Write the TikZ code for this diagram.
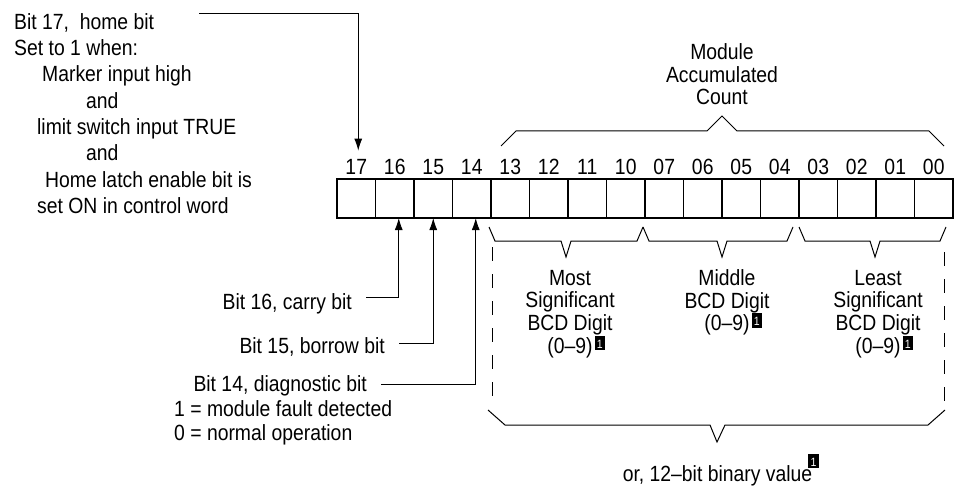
\documentclass[tikz,border=0pt]{standalone}
\usepackage{fontspec}
\setmainfont{Liberation Sans}[FakeStretch=0.88]
\usepackage{xcolor}
\usetikzlibrary{arrows.meta}

% black footnote box with a white 1
\newcommand{\notemark}[2]{\rlap{\hspace{#1}\smash{\raisebox{#2}{\setlength{\fboxsep}{2pt}\colorbox{black}{\rule{0pt}{10.5pt}\makebox[6.5pt]{\color{white}\fontsize{12}{12}\selectfont 1}}}}}}
% brace under a group of four bits
\newcommand{\digitbrace}[3]{\draw[brace] (#1,227) -- ++(6,14) -- ({#3-5},241) -- (#3,257) -- ({#3+5},241) -- ({#2-6},241) -- (#2,227);}

\begin{document}
\begin{tikzpicture}[x=1pt,y=-1pt,
  txt/.style={font=\fontsize{22}{22.7}\selectfont, inner sep=0pt},
  cell/.style={draw, line width=1.2pt, minimum width=38.5pt, minimum height=39pt, inner sep=0pt, outer sep=0pt},
  brace/.style={line width=1pt},
  arr/.style={line width=0.9pt, -{Latex[length=12pt, width=8pt]}},
  dashbox/.style={line width=1pt, dash pattern=on 14pt off 13pt}]
\useasboundingbox (0,0) rectangle (955,489);

% register
\foreach \b [count=\i from 0] in {17,16,15,14,13,12,11,10,07,06,05,04,03,02,01,00} {
  \node[cell, anchor=north west] (c\b) at (337+38.5*\i,179) {};
  \node[txt, anchor=base] (l\b) at ([yshift=4pt]c\b.north) {\b};
}

% bit 17
\node[txt, anchor=base west] (home) at (14,29.3) {Bit 17,\ \ home bit};
\foreach \dx/\txt [count=\k] in {0/Set to 1 when:, 28/Marker input high, 72/and, 23/limit switch input TRUE, 72/and, 31/Home latch enable bit is, 23/set ON in control word}
  \node[txt, anchor=base west] (cond\k) at (14+\dx,29.3+26.3*\k) {\txt};
\draw[arr, shorten >=9pt] ([xshift=45pt]home.north east) -| ([xshift=2pt]l17.north);

% bits 16, 15, 14
\node[txt, anchor=base east] (b16) at (352,309.3) {Bit 16, carry bit};
\node[txt, anchor=base east] (b15) at (385,353.3) {Bit 15, borrow bit};
\node[txt, anchor=base east] (b14) at (367,391.7) {Bit 14, diagnostic bit};
\node[txt, anchor=base west] (b14one) at (174,416.7) {1 = module fault detected};
\node[txt, anchor=base west] (b14zero) at (174,440) {0 = normal operation};
\draw[arr] ([xshift=14pt,yshift=12pt]b16.base east) -| ([xshift=4pt]c16.south);
\draw[arr] ([xshift=14pt,yshift=10pt]b15.base east) -| (c15.south);
\draw[arr] ([xshift=14pt,yshift=7.7pt]b14.base east) -| ([xshift=4pt]c14.south);

% accumulated count (base = last line)
\node[txt, align=center, anchor=base] (count) at (722,105) {Module\\Accumulated\\Count};
\draw[brace] (501,146) -- (516,131) -- (707,131) -- (722,116) -- (737,131) -- (929,131) -- (944,146);

% BCD digits
\digitbrace{489}{643}{566}
\digitbrace{643}{793}{722}
\digitbrace{799}{946}{875}
\node[txt, align=center, anchor=base] (msd) at (570,353.3) {Most\\Significant\\BCD Digit\\(0–9)\notemark{2pt}{5pt}};
\node[txt, align=center, anchor=base] (mid) at (727,330.7) {Middle\\BCD Digit\\(0–9)\notemark{2pt}{5pt}};
\node[txt, align=center, anchor=base] (lsd) at (878,353.3) {Least\\Significant\\BCD Digit\\(0–9)\notemark{2pt}{5pt}};

% binary value
\draw[dashbox] (492,247) -- (492,405);
\draw[dashbox] (944,252) -- (944,405);
\draw[brace] (488,410) -- (505,425) -- (710,425) -- (717,442) -- (725,425) -- (928,425) -- (945,410);
\node[txt, anchor=base] (binval) at (717.5,481.7) {or, 12–bit binary value\notemark{-4pt}{15.5pt}};
\end{tikzpicture}
\end{document}
